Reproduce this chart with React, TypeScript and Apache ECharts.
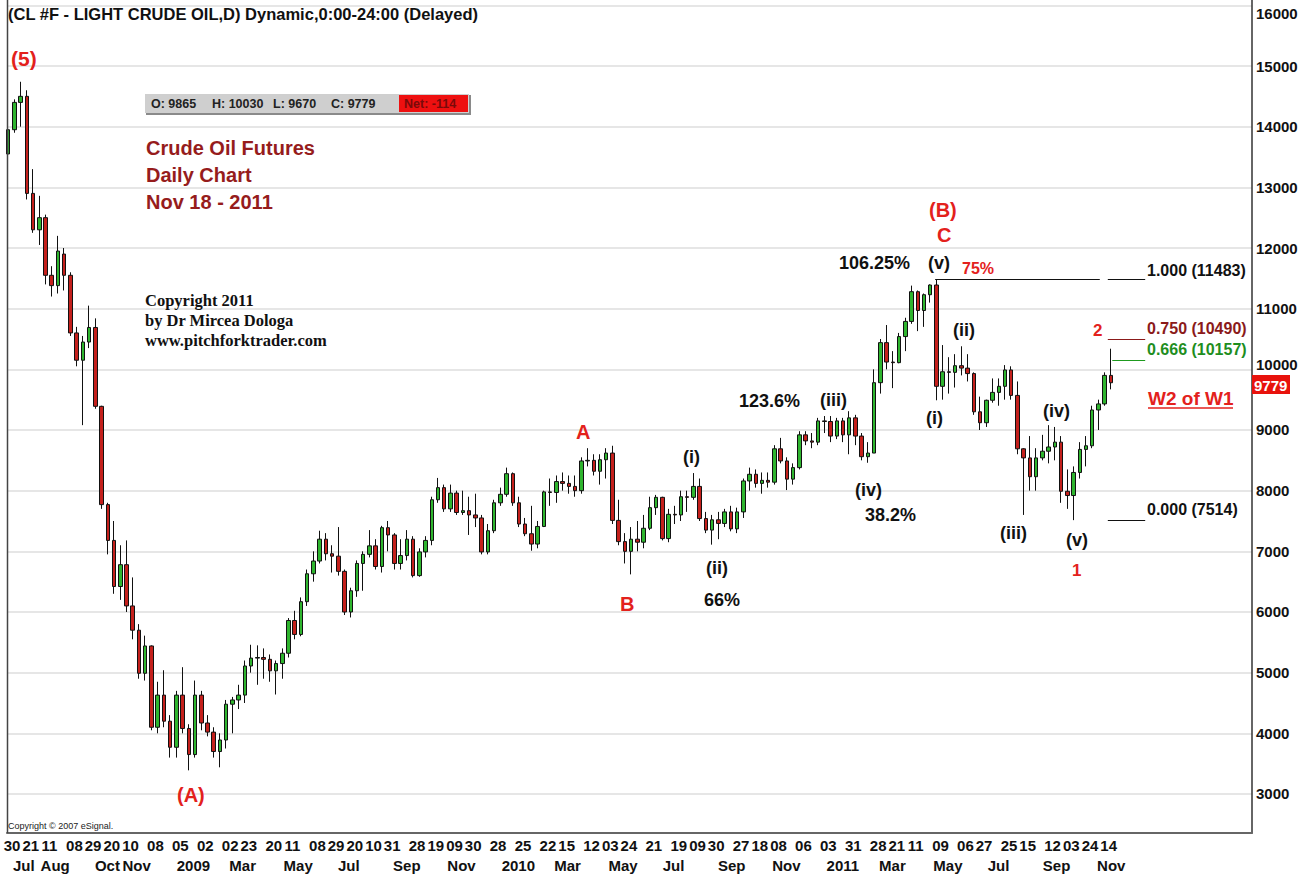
import React, { useEffect, useRef } from 'react';
import * as echarts from 'echarts';

// ---------------- data ----------------
const FIRST_WEEK = '2008-06-23'; // Monday of the first weekly bar
// weekly bars: [open, close, low, high]
const weeklyOHLC: number[][] = [
  [13550, 13950, 13300, 14000], [13950, 14400, 13900, 14450], [14400, 14500, 14000, 14740], [14500, 12900, 12800, 14600],
  [12900, 12300, 12250, 13300], [12300, 12500, 12050, 12860], [12500, 11550, 11400, 12550], [11550, 11380, 11200, 11700],
  [11380, 11950, 11250, 12200], [11900, 11550, 11300, 12000], [11550, 10600, 10550, 11600], [10600, 10150, 10050, 10700],
  [10150, 10450, 9080, 10550], [10450, 10690, 10350, 11050], [10690, 9390, 9350, 10840], [9390, 7770, 7700, 9400],
  [7770, 7180, 6950, 7800], [7180, 6420, 6300, 7500], [6420, 6780, 6200, 7100], [6780, 6100, 6000, 7180],
  [6100, 5700, 5550, 6570], [5700, 4990, 4900, 5800], [4990, 5440, 4870, 5610], [5440, 4100, 4050, 5450],
  [4100, 4630, 4000, 4850], [4630, 4200, 4100, 5040], [4200, 3770, 3600, 4300], [3770, 4630, 3600, 4700],
  [4630, 4080, 4000, 5090], [4080, 3650, 3390, 4150], [3650, 4630, 3600, 4870], [4630, 4170, 4050, 4700],
  [4170, 4020, 3950, 4300], [4020, 3700, 3600, 4100], [3700, 3890, 3440, 4000], [3890, 4480, 3750, 4550],
  [4480, 4550, 4000, 4600], [4550, 4630, 4400, 4800], [4630, 5110, 4500, 5200], [5110, 5240, 5000, 5460],
  [5240, 5250, 4800, 5450], [5250, 5220, 4900, 5400], [5220, 5030, 4850, 5300], [5030, 5150, 4640, 5200],
  [5150, 5320, 4900, 5400], [5320, 5860, 5250, 5900], [5860, 5630, 5550, 6020], [5630, 6170, 5600, 6240],
  [6170, 6630, 6100, 6700], [6630, 6840, 6500, 7000], [6840, 7200, 6800, 7340], [7200, 6960, 6850, 7300],
  [6960, 6920, 6650, 7100], [6920, 6670, 6600, 7400], [6670, 6000, 5950, 6700], [6000, 6350, 5910, 6400],
  [6350, 6800, 6250, 6850], [6800, 6950, 6350, 7000], [6950, 7090, 6900, 7350], [7090, 6750, 6700, 7200],
  [6750, 7390, 6650, 7420], [7390, 7270, 7000, 7500], [7270, 6800, 6700, 7300], [6800, 6930, 6700, 7200],
  [6930, 7200, 6850, 7350], [7200, 6600, 6570, 7250], [6600, 6990, 6580, 7050], [6990, 7180, 6900, 7250],
  [7180, 7850, 7100, 7900], [7850, 8050, 7800, 8210], [8050, 7700, 7650, 8100], [7700, 7960, 7650, 8100],
  [7960, 7640, 7600, 8000], [7640, 7670, 7600, 8000], [7670, 7600, 7270, 7900], [7600, 7550, 7400, 7950],
  [7550, 6990, 6950, 7600], [6990, 7340, 6950, 7450], [7340, 7800, 7300, 7850], [7800, 7940, 7750, 8050],
  [7940, 8280, 7900, 8380], [8280, 7800, 7750, 8300], [7800, 7450, 7400, 7900], [7450, 7290, 7250, 7550],
  [7290, 7120, 7010, 7750], [7120, 7410, 7050, 7500], [7410, 7980, 7400, 8000], [7980, 7970, 7750, 8200],
  [7970, 8150, 7800, 8250], [8150, 8120, 8000, 8300], [8120, 8070, 7950, 8250], [8070, 8000, 7900, 8250],
  [8000, 8490, 7950, 8550], [8490, 8500, 8400, 8700], [8500, 8320, 8250, 8600], [8320, 8510, 8100, 8600],
  [8510, 8620, 8200, 8700], [8620, 7510, 7450, 8740], [7510, 7160, 7100, 7850], [7160, 7000, 6800, 7300],
  [7000, 7200, 6620, 7400], [7200, 7150, 7000, 7500], [7150, 7380, 7050, 7600], [7380, 7720, 7350, 7900],
  [7720, 7890, 7600, 7930], [7890, 7210, 7180, 7900], [7210, 7610, 7150, 7700], [7610, 7600, 7450, 7750],
  [7600, 7900, 7500, 8000], [7900, 7890, 7650, 8000], [7890, 8070, 7850, 8290], [8070, 7540, 7500, 8200],
  [7540, 7350, 7300, 7650], [7350, 7520, 7110, 7600], [7520, 7460, 7200, 7650], [7460, 7650, 7400, 7700],
  [7650, 7370, 7330, 7750], [7370, 7650, 7300, 7720], [7650, 8160, 7550, 8200], [8160, 8270, 8000, 8380],
  [8270, 8120, 8050, 8350], [8120, 8170, 7950, 8300], [8170, 8140, 8050, 8300], [8140, 8690, 8100, 8750],
  [8690, 8490, 8450, 8870], [8490, 8190, 8010, 8550], [8190, 8380, 8100, 8450], [8380, 8920, 8350, 8980],
  [8920, 8820, 8750, 8980], [8820, 8800, 8700, 8950], [8800, 9150, 8750, 9200], [9150, 9140, 8950, 9230],
  [9140, 8900, 8800, 9230], [8900, 9150, 8850, 9200], [9150, 8920, 8800, 9200], [8920, 9200, 8600, 9310],
  [9200, 8900, 8750, 9250], [8900, 8560, 8500, 8950], [8560, 8620, 8460, 8800], [8620, 9780, 8620, 10000],
  [9780, 10440, 9600, 10500], [10440, 10120, 10000, 10730], [10120, 10110, 9690, 10300], [10110, 10540, 10100, 10600],
  [10540, 10790, 10300, 10850], [10790, 11280, 10750, 11380], [11280, 10970, 10630, 11300], [10970, 11230, 10700, 11250],
  [11230, 11390, 11100, 11400], [11390, 9720, 9490, 11483], [9720, 9960, 9500, 10400], [9960, 9950, 9600, 10200],
  [9950, 10060, 9700, 10250], [10060, 10020, 9900, 10380], [10020, 9930, 9800, 10250], [9930, 9300, 9250, 9950],
  [9300, 9120, 9000, 9550], [9120, 9490, 9050, 9500], [9490, 9620, 9450, 9850], [9620, 9720, 9400, 9850],
  [9720, 9990, 9500, 10070], [9990, 9570, 9500, 10050], [9570, 8690, 8600, 9800], [8690, 8540, 7600, 8700],
  [8540, 8230, 8000, 8900], [8230, 8540, 8000, 8700], [8540, 8650, 8500, 8920], [8650, 8720, 8450, 9080],
  [8720, 8800, 8500, 9050], [8800, 7990, 7800, 8900], [7990, 7920, 7700, 8350], [7920, 8300, 7514, 8400],
  [8300, 8680, 8200, 8800], [8680, 8740, 8400, 8900], [8740, 9330, 8700, 9400], [9330, 9430, 9000, 9500],
  [9430, 9900, 9400, 9950], [9900, 9779, 9670, 10340],
];

const dayTickDates = [
  '2008-06-30', '2008-07-21', '2008-08-11', '2008-09-08', '2008-09-29', '2008-10-20', '2008-11-10', '2008-12-08',
  '2009-01-05', '2009-02-02', '2009-03-02', '2009-03-23', '2009-04-20', '2009-05-11', '2009-06-08', '2009-06-29',
  '2009-07-20', '2009-08-10', '2009-08-31', '2009-09-28', '2009-10-19', '2009-11-09', '2009-11-30', '2009-12-28',
  '2010-01-25', '2010-02-22', '2010-03-15', '2010-04-12', '2010-05-03', '2010-05-24', '2010-06-21', '2010-07-19',
  '2010-08-09', '2010-08-30', '2010-09-27', '2010-10-18', '2010-11-08', '2010-12-06', '2011-01-03', '2011-01-31',
  '2011-02-28', '2011-03-21', '2011-04-11', '2011-05-09', '2011-06-06', '2011-06-27', '2011-07-25', '2011-08-15',
  '2011-09-12', '2011-10-03', '2011-10-24', '2011-11-14',
];
const monthTickDates = [
  '2008-07-01', '2008-08-01', '2008-10-01', '2008-11-01', '2009-01-01', '2009-03-01', '2009-05-01', '2009-07-01',
  '2009-09-01', '2009-11-01', '2010-01-01', '2010-03-01', '2010-05-01', '2010-07-01', '2010-09-01', '2010-11-01',
  '2011-01-01', '2011-03-01', '2011-05-01', '2011-07-01', '2011-09-01', '2011-11-01',
];
const monthTickLabels = [
  'Jul', 'Aug', 'Oct', 'Nov', '2009', 'Mar', 'May', 'Jul', 'Sep', 'Nov', '2010', 'Mar', 'May', 'Jul', 'Sep', 'Nov',
  '2011', 'Mar', 'May', 'Jul', 'Sep', 'Nov',
];
const yTicks = [3000, 4000, 5000, 6000, 7000, 8000, 9000, 10000, 11000, 12000, 13000, 14000, 15000, 16000];
const fibLevels = [11483, 10490, 10157, 7514];
const fibLabels = ['1.000 (11483)', '0.750 (10490)', '0.666 (10157)', '0.000 (7514)'];
const lastBar = { o: 9865, h: 10030, l: 9670, c: 9779, net: -114 };

// ---------------- helpers ----------------
const DAY = 86400000;
const ts = (s: string) => Date.UTC(+s.slice(0, 4), +s.slice(5, 7) - 1, +s.slice(8, 10));
const AXIS_MIN = ts('2008-06-24') + 0.26 * DAY;
const AXIS_MAX = ts('2012-04-23');
const FONT = '"Liberation Sans", Arial, sans-serif';
const RED = '#e3211c';

export default function App() {
  const ref = useRef<HTMLDivElement>(null);
  useEffect(() => {
    if (!ref.current) return;
    const chart = echarts.init(ref.current, undefined, { renderer: 'svg' });
    const w0 = ts(FIRST_WEEK) + 2.5 * DAY;
    const candles = weeklyOHLC.map((d, i) => [w0 + i * 7 * DAY, d[0], d[1], d[2], d[3]]);
    const dayTicks = dayTickDates.map(ts);
    const monthTicks = monthTickDates.map(ts);
    const monthMap = new Map<number, string>();
    monthTicks.forEach((t, i) => monthMap.set(t, monthTickLabels[i]));

    const seg = (level: number, a: string, b: string, color: string) => [
      { coord: [ts(a), level], lineStyle: { color, width: 1.2, type: 'solid' } },
      { coord: [ts(b), level] },
    ];

    const txt = (text: string, x: number, y: number, font: string, fill: string, align = 'left') => ({
      type: 'text', x, y, z: 100, silent: true,
      style: { text, font, fill, align, verticalAlign: 'middle' },
    });
    const ann = 'bold 18px ' + FONT;
    const wave = 'bold 20px ' + FONT;
    const serif = 'bold 16.5px "Liberation Serif", serif';

    chart.setOption({
      animation: false,
      backgroundColor: '#ffffff',
      grid: { left: 7, right: 61, top: 0, bottom: 41, containLabel: false },
      xAxis: [
        {
          type: 'value', min: AXIS_MIN, max: AXIS_MAX, position: 'bottom',
          axisLine: { show: true, lineStyle: { color: '#666', width: 2 } },
          axisTick: { show: false, customValues: dayTicks }, splitLine: { show: false },
          axisLabel: {
            customValues: dayTicks, margin: 5, color: '#111', fontFamily: FONT, fontSize: 15, fontWeight: 'bold',
            align: 'center', hideOverlap: false,
            formatter: (v: number) => String(new Date(v).getUTCDate()).padStart(2, '0'),
          },
        },
        {
          type: 'value', min: AXIS_MIN, max: AXIS_MAX, position: 'bottom', offset: 20,
          axisLine: { show: false }, axisTick: { show: false, customValues: monthTicks }, splitLine: { show: false },
          axisLabel: {
            customValues: monthTicks, margin: 5, color: '#111', fontFamily: FONT, fontSize: 15, fontWeight: 'bold',
            align: 'left', hideOverlap: false,
            formatter: (v: number) => monthMap.get(v) ?? '',
          },
        },
      ],
      yAxis: {
        type: 'value', position: 'right', min: 2357, max: 16088,
        axisLine: { show: true, lineStyle: { color: '#333', width: 1.5 } },
        axisTick: { show: false, customValues: yTicks },
        splitLine: { show: true, lineStyle: { color: '#dedede', width: 1.5 } },
        axisLabel: {
          customValues: yTicks, margin: 4, color: '#111', fontFamily: FONT, fontSize: 15, fontWeight: 'bold',
          formatter: (v: number) => (v === 16000 ? '{top|16000}' : v === 10000 ? '{up|10000}' : String(v)),
          rich: {
            top: { padding: [16, 0, 0, 0], fontFamily: FONT, fontSize: 15, fontWeight: 'bold', color: '#111' },
            up: { padding: [0, 0, 9, 0], fontFamily: FONT, fontSize: 15, fontWeight: 'bold', color: '#111' },
          },
        },
      },
      series: [
        {
          type: 'candlestick',
          xAxisIndex: 0,
          barWidth: 4,
          data: candles,
          itemStyle: { color: '#2fb52f', color0: '#c4201c', borderColor: '#111', borderColor0: '#111', borderWidth: 1 },
          markLine: {
            silent: true, symbol: ['none', 'none'], label: { show: false }, animation: false,
            data: [
              seg(fibLevels[0], '2011-05-03', '2011-11-04', '#111'),
              seg(fibLevels[0], '2011-11-13', '2011-12-25', '#111'),
              seg(fibLevels[1], '2011-11-13', '2011-12-25', '#8b1a1a'),
              seg(fibLevels[2], '2011-11-18', '2011-12-25', '#1e9a1e'),
              seg(fibLevels[3], '2011-11-13', '2011-12-25', '#111'),
            ],
          },
        },
      ],
      graphic: [
        { type: 'line', silent: true, z: 50, shape: { x1: 7.5, y1: 0, x2: 7.5, y2: 833 }, style: { stroke: '#444', lineWidth: 1.5 } },
        txt('(CL #F - LIGHT CRUDE OIL,D) Dynamic,0:00-24:00 (Delayed)', 8, 14, 'bold 16.5px ' + FONT, '#111'),
        txt('(5)', 11, 58, 'bold 21px ' + FONT, RED),
        { type: 'rect', silent: true, z: 90, shape: { x: 146, y: 95, width: 325, height: 20 }, style: { fill: '#8a8a8a' } },
        { type: 'rect', silent: true, z: 91, shape: { x: 145, y: 94, width: 324, height: 19 }, style: { fill: '#cfcfcf' } },
        { type: 'rect', silent: true, z: 92, shape: { x: 399, y: 95, width: 69, height: 17 }, style: { fill: '#ee1010' } },
        txt('O: ' + lastBar.o, 151, 104, 'bold 12.5px ' + FONT, '#222'),
        txt('H: ' + lastBar.h, 212, 104, 'bold 12.5px ' + FONT, '#222'),
        txt('L: ' + lastBar.l, 273, 104, 'bold 12.5px ' + FONT, '#222'),
        txt('C: ' + lastBar.c, 331, 104, 'bold 12.5px ' + FONT, '#222'),
        txt('Net: ' + lastBar.net, 404, 104, 'bold 12.5px ' + FONT, '#7a0a0a'),
        txt('Crude Oil Futures', 146, 148, 'bold 20px ' + FONT, '#961c1c'),
        txt('Daily Chart', 146, 175, 'bold 20px ' + FONT, '#961c1c'),
        txt('Nov 18 - 2011', 146, 202, 'bold 20px ' + FONT, '#961c1c'),
        txt('Copyright 2011', 145, 300, serif, '#111'),
        txt('by Dr Mircea Dologa', 145, 320, serif, '#111'),
        txt('www.pitchforktrader.com', 145, 340, serif, '#111'),
        txt('Copyright \u00a9 2007 eSignal.', 8, 826, '9px ' + FONT, '#222'),
        txt('(A)', 177, 795, wave, RED),
        txt('A', 576, 432, wave, RED),
        txt('B', 620, 604, wave, RED),
        txt('(B)', 929, 210, wave, RED),
        txt('C', 937, 235, wave, RED),
        txt('1', 1072, 570, 'bold 17px ' + FONT, RED),
        txt('2', 1093, 330, 'bold 17px ' + FONT, RED),
        txt('75%', 962, 268, 'bold 16px ' + FONT, RED),
        txt('(i)', 683, 457, ann, '#111'),
        txt('(ii)', 706, 568, ann, '#111'),
        txt('66%', 704, 600, ann, '#111'),
        txt('123.6%', 739, 401, ann, '#111'),
        txt('(iii)', 820, 400, ann, '#111'),
        txt('(iv)', 855, 490, ann, '#111'),
        txt('38.2%', 865, 515, ann, '#111'),
        txt('106.25%', 839, 263, ann, '#111'),
        txt('(v)', 928, 263, ann, '#111'),
        txt('(i)', 926, 418, ann, '#111'),
        txt('(ii)', 953, 330, ann, '#111'),
        txt('(iii)', 1000, 533, ann, '#111'),
        txt('(iv)', 1043, 411, ann, '#111'),
        txt('(v)', 1066, 540, ann, '#111'),
        txt(fibLabels[0], 1147, 270, 'bold 16px ' + FONT, '#111'),
        txt(fibLabels[1], 1147, 328, 'bold 16px ' + FONT, '#8b1a1a'),
        txt(fibLabels[2], 1147, 349, 'bold 16px ' + FONT, '#1e8e1e'),
        txt(fibLabels[3], 1147, 509, 'bold 16px ' + FONT, '#111'),
        txt('W2 of W1', 1148, 398, 'bold 19px ' + FONT, RED),
        { type: 'line', silent: true, z: 100, shape: { x1: 1148, y1: 408, x2: 1233, y2: 408 }, style: { stroke: RED, lineWidth: 1.5 } },
        { type: 'rect', silent: true, z: 100, shape: { x: 1252, y: 375, width: 38, height: 19 }, style: { fill: '#e8120c' } },
        txt(String(lastBar.c), 1254, 385, 'bold 15px ' + FONT, '#ffffff'),
      ],
    });
    return () => chart.dispose();
  }, []);
  return <div ref={ref} style={{ position: 'fixed', left: 0, top: 0, width: 1313, height: 874, background: '#fff' }} />;
}
